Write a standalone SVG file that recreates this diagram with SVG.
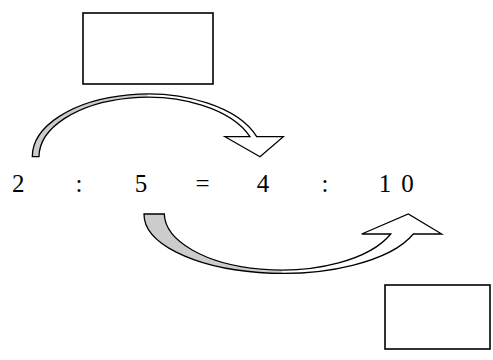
<svg xmlns="http://www.w3.org/2000/svg" width="493" height="360" viewBox="0 0 493 360">
<style>
.box{fill:#fff;stroke:#000;stroke-width:1.6}
.edge{fill:none;stroke:#000;stroke-width:1.3;stroke-linejoin:miter}
.back{fill:#cccccc;stroke:none}
.num{font-family:"Liberation Serif",serif;font-size:25px;fill:#000;text-anchor:middle}
</style>
<rect width="493" height="360" fill="#fff"/>
<g id="box-top"><rect class="box" x="83" y="13" width="130" height="71"/></g>
<g id="box-bottom"><rect class="box" x="385" y="285" width="105" height="64"/></g>
<g id="equation">
<text class="num" x="18.3 79 141 202.5 263 325 385 407.5" y="192">2:5=4:10</text>
</g>
<g id="connectors">
<g id="arrow-top">
<path class="back" d="M32.3,156.7 A115.2,62.7 0 0 1 147.5,94 L147.7,97 A108.7,59.7 0 0 0 39,156.7 Z"/>
<path class="edge" d="M32.3,156.7 A115.2,62.7 0 0 1 256.7,136.7 L283.3,136.7 L260,156.7 L225,136.7 L250,136.7 A108.7,59.7 0 0 0 39,156.7 Z"/>
</g>
<g id="arrow-bottom">
<path class="back" d="M144,214 A138.6,59 0 0 0 282.6,273 L281.3,271 A117.3,57 0 0 1 164.3,214 Z"/>
<path class="edge" d="M144,214 A138.6,59 0 0 0 413.3,234 L441.7,234 L408.3,214 L361.7,234 L390.7,234 A117.3,57 0 0 1 164.3,214 Z"/>
</g>
</g>
</svg>
